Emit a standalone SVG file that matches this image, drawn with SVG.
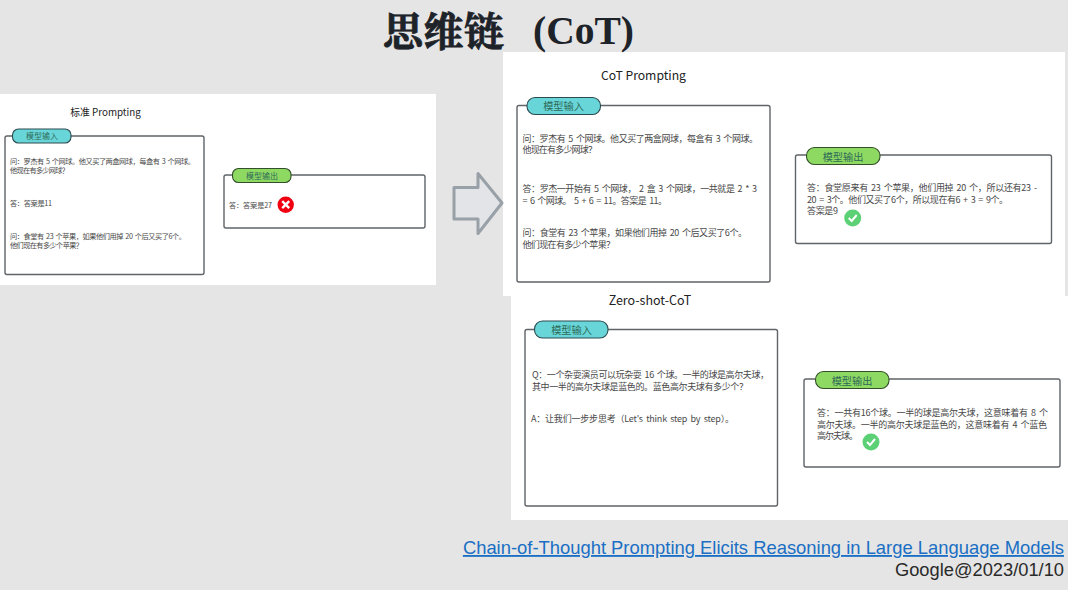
<svg xmlns="http://www.w3.org/2000/svg" width="1068" height="590" viewBox="0 0 1068 590">
<style>
text{font-family:"Noto Sans CJK SC","Noto Sans",sans-serif;fill:#484848}
.panel{fill:#fff}
.box{fill:#fff;stroke:#5f6468;stroke-width:1.4}
.in{fill:#68d6d8;stroke:#2c4a50;stroke-width:1.1}
.out{fill:#8ed962;stroke:#33502a;stroke-width:1.1}
.h{fill:#222;text-anchor:middle}
.pl{fill:#2f6a58;text-anchor:middle}
.s{font-size:7.2px;word-spacing:1.2px}.n{font-size:9px;word-spacing:1.5px}
</style>
<rect width="1068" height="590" fill="#e5e5e5"/>
<g id="panels">
<rect class="panel" x="0" y="94" width="436" height="191"/>
<rect class="panel" x="503" y="52" width="562" height="244"/>
<rect class="panel" x="511" y="296" width="557" height="224"/>
</g>
<text id="title" x="383" y="46" textLength="121" style="font-family:'Noto Serif CJK SC','Noto Sans CJK SC',serif;font-size:40px;font-weight:700;fill:#1d2329;stroke:#1d2329;stroke-width:0.8">思维链</text>
<text id="title-cot" x="533" y="44" style="font-family:'Liberation Serif',serif;font-size:39.500px;font-weight:700;fill:#1d2329">(CoT)</text>

<g id="std-title"><text class="h" x="105.500" y="116" font-size="9.800">标准 Prompting</text></g>
<g id="std-input">
<rect class="box" x="5" y="136" width="199" height="138.500" rx="2"/>
<rect class="in" x="12.500" y="129" width="58.500" height="14" rx="6"/>
<text class="pl" x="42" y="139" font-size="8">模型输入</text>
<text class="s" x="10" y="164" textLength="185">问：罗杰有 5 个网球。他又买了两盒网球，每盒有 3 个网球。</text>
<text class="s" x="10" y="173" textLength="59">他现在有多少网球？</text>
<text class="s" x="10" y="206" textLength="42">答：答案是11</text>
<text class="s" x="10" y="239" textLength="176">问：食堂有 23 个苹果，如果他们用掉 20 个后又买了6个。</text>
<text class="s" x="10" y="248" textLength="73">他们现在有多少个苹果？</text>
</g>
<g id="std-output">
<rect class="box" x="224" y="175" width="201" height="53" rx="2"/>
<rect class="out" x="232.500" y="168.500" width="58.500" height="14" rx="6"/>
<text class="pl" x="262" y="178.500" font-size="8">模型输出</text>
<text class="s" x="229" y="208" textLength="43">答：答案是27</text>
<circle cx="285.700" cy="204.700" r="8.200" fill="#f00011"/>
<path d="M282.200 201.200l7 7m0-7l-7 7" stroke="#fff" stroke-width="2.400" fill="none"/>
</g>
<g id="connectors">
<path d="M454 187.500H478V173.500L502 203L478 233.500V219H454Z" fill="#e2e4e8" stroke="#98a0a8" stroke-width="3" stroke-linejoin="round"/>
</g>

<g id="cot-title"><text class="h" x="643.500" y="80" font-size="12.200">CoT Prompting</text></g>
<g id="cot-input">
<rect class="box" x="517" y="105.500" width="253" height="176.500" rx="2"/>
<rect class="in" x="527" y="97.500" width="73.500" height="17" rx="8"/>
<text class="pl" x="563.500" y="110" font-size="10.200">模型输入</text>
<text class="n" x="522.500" y="142" textLength="235.500">问：罗杰有 5 个网球。他又买了两盒网球，每盒有 3 个网球。</text>
<text class="n" x="522.500" y="153" textLength="74.500">他现在有多少网球？</text>
<text class="n" x="522.500" y="192" textLength="234.500">答：罗杰一开始有 5 个网球， 2 盒 3 个网球，一共就是 2 * 3</text>
<text class="n" x="522.500" y="204" textLength="144.500">= 6 个网球。 5 + 6 = 11。答案是 11。</text>
<text class="n" x="522.500" y="236" textLength="224.500">问：食堂有 23 个苹果，如果他们用掉 20 个后又买了6个。</text>
<text class="n" x="522.500" y="248" textLength="92.500">他们现在有多少个苹果？</text>
</g>
<g id="cot-output">
<rect class="box" x="795.500" y="155" width="256" height="88.500" rx="2"/>
<rect class="out" x="806.500" y="147.500" width="73.500" height="17" rx="8"/>
<text class="pl" x="843" y="160.500" font-size="10.200">模型输出</text>
<text class="n" x="807" y="191" textLength="230">答：食堂原来有 23 个苹果，他们用掉 20 个，所以还有23 -</text>
<text class="n" x="807" y="203" textLength="201">20 = 3个。他们又买了6个，所以现在有6 + 3 = 9个。</text>
<text class="n" x="807" y="214" textLength="31">答案是9</text>
<circle cx="852.700" cy="218" r="8.500" fill="#5bd075"/>
<path d="M848.700 218l3 3l5-6" stroke="#fff" stroke-width="2" fill="none"/>
</g>

<g id="zero-title"><text class="h" x="650" y="304.500" font-size="12.500">Zero-shot-CoT</text></g>
<g id="zero-input">
<rect class="box" x="525" y="329.500" width="252.500" height="176.500" rx="2"/>
<rect class="in" x="534.500" y="321" width="73.500" height="17" rx="8"/>
<text class="pl" x="571.500" y="334" font-size="10.200">模型输入</text>
<text class="n" x="532" y="378" textLength="237">Q：一个杂耍演员可以玩杂耍 16 个球。一半的球是高尔夫球，</text>
<text class="n" x="532" y="390" textLength="216">其中一半的高尔夫球是蓝色的。蓝色高尔夫球有多少个？</text>
<text class="n" x="531" y="422" textLength="203">A：让我们一步步思考（Let's think step by step）。</text>
</g>
<g id="zero-output">
<rect class="box" x="804" y="379" width="256" height="88" rx="2"/>
<rect class="out" x="815.500" y="371.500" width="73.500" height="17" rx="8"/>
<text class="pl" x="852" y="384.500" font-size="10.200">模型输出</text>
<text class="n" x="817" y="416" textLength="231">答：一共有16个球。一半的球是高尔夫球，这意味着有 8 个</text>
<text class="n" x="817" y="428" textLength="230">高尔夫球。一半的高尔夫球是蓝色的，这意味着有 4 个蓝色</text>
<text class="n" x="817" y="439" textLength="41">高尔夫球。</text>
<circle cx="871" cy="442" r="8.500" fill="#5bd075"/>
<path d="M867 442l3 3l5-6" stroke="#fff" stroke-width="2" fill="none"/>
</g>

<g id="citation">
<text x="1064" y="554" text-anchor="end" style="font-family:'Liberation Sans',sans-serif;font-size:18.400px;fill:#1a6fc4;text-decoration:underline">Chain-of-Thought Prompting Elicits Reasoning in Large Language Models</text>
<text x="1064" y="576" text-anchor="end" style="font-family:'Liberation Sans',sans-serif;font-size:18.300px;fill:#2a2a2a">Google@2023/01/10</text>
</g>
</svg>
